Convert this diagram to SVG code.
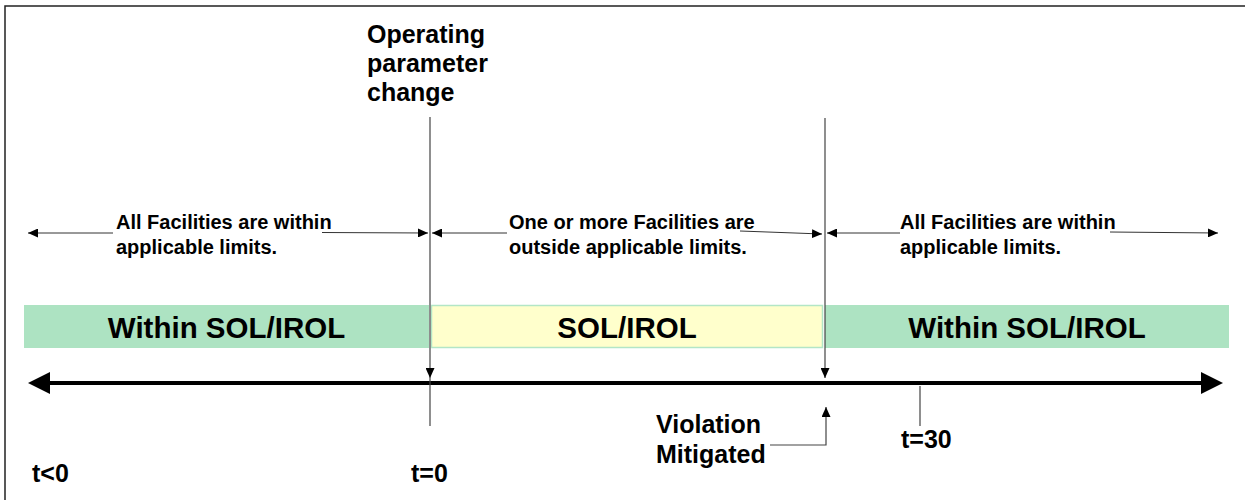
<svg xmlns="http://www.w3.org/2000/svg" width="1245" height="502" viewBox="0 0 1245 502">
  <style>
    text { font-family: "Liberation Sans", Arial, sans-serif; font-weight: bold; fill: #000; }
    .band { font-size: 29.5px; text-anchor: middle; }
    .desc { font-size: 20px; }
    .lbl { font-size: 25px; }
    .thin { stroke: #333; stroke-width: 1; fill: none; }
    .vline { stroke: #444; stroke-width: 1.2; fill: none; }
    .axis { stroke: #000; stroke-width: 4; fill: none; }
  </style>
  <defs>
    <marker id="ah" markerUnits="userSpaceOnUse" markerWidth="10" markerHeight="9" refX="10" refY="4.5" orient="auto">
      <path d="M0,0 L10,4.5 L0,9 z" fill="#000"/>
    </marker>
    <marker id="big" markerUnits="userSpaceOnUse" markerWidth="22" markerHeight="22" refX="12" refY="11" orient="auto">
      <path d="M0,0 L22,11 L0,22 z" fill="#000"/>
    </marker>
  </defs>
  <rect x="0" y="0" width="1245" height="502" fill="#fff"/>
  <g id="frame">
    <path d="M5,500 L5,6 L1245,6" stroke="#222" stroke-width="1.5" fill="none"/>
  </g>

  <g id="band-left">
    <rect x="24" y="305" width="405" height="43" fill="#ade3c2"/>
    <text class="band" x="226.5" y="338">Within SOL/IROL</text>
  </g>
  <g id="band-middle">
    <rect x="431.5" y="305.5" width="391" height="42" fill="#ffffcc" stroke="#b3e6c6" stroke-width="1.5"/>
    <text class="band" x="627" y="338">SOL/IROL</text>
  </g>
  <g id="band-right">
    <rect x="825" y="305" width="404" height="43" fill="#ade3c2"/>
    <text class="band" x="1027" y="338">Within SOL/IROL</text>
  </g>

  <g id="desc-left">
    <text class="desc" x="116" y="229">All Facilities are within</text>
    <text class="desc" x="116" y="254">applicable limits.</text>
  </g>
  <g id="desc-middle">
    <text class="desc" x="509" y="229">One or more Facilities are</text>
    <text class="desc" x="509" y="254">outside applicable limits.</text>
  </g>
  <g id="desc-right">
    <text class="desc" x="900" y="229">All Facilities are within</text>
    <text class="desc" x="900" y="254">applicable limits.</text>
  </g>

  <g id="label-operating">
    <text class="lbl" x="367" y="43">Operating</text>
    <text class="lbl" x="367" y="72">parameter</text>
    <text class="lbl" x="367" y="101">change</text>
  </g>
  <g id="label-violation">
    <text class="lbl" x="656" y="433">Violation</text>
    <text class="lbl" x="656" y="463">Mitigated</text>
  </g>
  <g id="label-tlt0">
    <text class="lbl" x="32" y="482">t&lt;0</text>
  </g>
  <g id="label-t0">
    <text class="lbl" x="411" y="482">t=0</text>
  </g>
  <g id="label-t30">
    <text class="lbl" x="901" y="448">t=30</text>
  </g>

  <g id="connectors">
    <line class="axis" x1="1213" y1="383" x2="38" y2="383" marker-end="url(#big)"/>
    <line class="axis" x1="38" y1="383" x2="1213" y2="383" marker-end="url(#big)"/>
    <line class="vline" x1="430" y1="117" x2="430" y2="378" marker-end="url(#ah)"/>
    <line class="vline" x1="430" y1="378" x2="430" y2="426"/>
    <line class="vline" x1="825" y1="118" x2="825" y2="378" marker-end="url(#ah)"/>
    <line class="vline" x1="920" y1="386" x2="920" y2="426"/>
    <path class="vline" d="M770,445 L826,445 L826,407" marker-end="url(#ah)"/>
    <line class="thin" x1="113" y1="233" x2="28" y2="233" marker-end="url(#ah)"/>
    <line class="thin" x1="322" y1="232.5" x2="428" y2="233" marker-end="url(#ah)"/>
    <line class="thin" x1="507" y1="233" x2="432" y2="233" marker-end="url(#ah)"/>
    <line class="thin" x1="740" y1="231" x2="822" y2="234" marker-end="url(#ah)"/>
    <line class="thin" x1="900" y1="233" x2="827" y2="233" marker-end="url(#ah)"/>
    <line class="thin" x1="1110" y1="232" x2="1218" y2="233" marker-end="url(#ah)"/>
  </g>
</svg>
